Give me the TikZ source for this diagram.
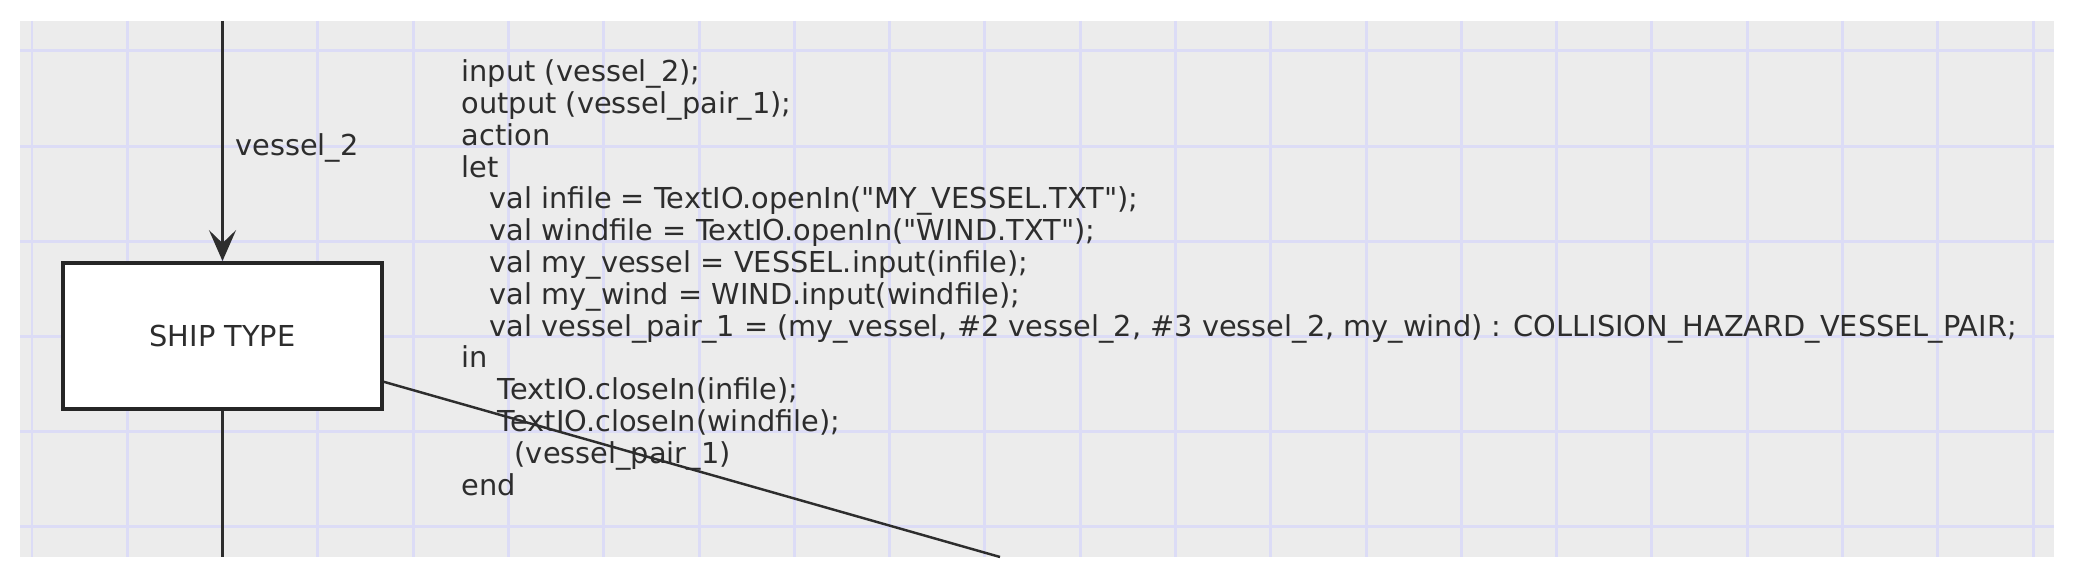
\documentclass[tikz,border=0pt]{standalone}
\usepackage{fontspec}
\setmainfont{DejaVu Sans}[Ligatures=TeXOff]
\usetikzlibrary{arrows.meta}
\definecolor{sheet}{RGB}{236,236,236}
\definecolor{gridblue}{RGB}{220,220,246}
\definecolor{ink}{RGB}{45,45,45}

\begin{document}
\begin{tikzpicture}[x=0.1mm, y=-0.1mm,
        conn/.style={draw=ink, line width=0.7pt},
        block/.style={draw=black!85, line width=1.1pt, fill=white,
            minimum width=31.9mm, minimum height=14.6mm,
            font=\fontsize{8.2}{9.05}\selectfont, text=ink},
        lbl/.style={font=\fontsize{8.2}{9.05}\selectfont, text=ink}]
    \useasboundingbox (0,0) rectangle (2078,578);
    \fill[sheet] (20,21) rectangle (2054,557);
    \foreach \i in {0,...,21}
        \draw[gridblue, line width=0.85pt] (32+95.29*\i,21) -- (32+95.29*\i,557);
    \foreach \j in {0,...,5}
        \draw[gridblue, line width=0.85pt] (20,51+95.2*\j) -- (2054,51+95.2*\j);

    \node[lbl, anchor=north west, inner sep=0pt, align=left] (code) at (461,59) {%
        input (vessel\_2);\\
        output (vessel\_pair\_1);\\
        action\\
        let\\
        \hspace*{2.8mm}val infile = TextIO.openIn("MY\_VESSEL.TXT");\\
        \hspace*{2.8mm}val windfile = TextIO.openIn("WIND.TXT");\\
        \hspace*{2.8mm}val my\_vessel = VESSEL.input(infile);\\
        \hspace*{2.8mm}val my\_wind = WIND.input(windfile);\\
        \hspace*{2.8mm}val vessel\_pair\_1 = (my\_vessel, \#2 vessel\_2, \#3 vessel\_2, my\_wind) : COLLISION\_HAZARD\_VESSEL\_PAIR;\\
        in\\
        \hspace*{3.6mm}TextIO.closeIn(infile);\\
        \hspace*{3.6mm}TextIO.closeIn(windfile);\\
        \hspace*{5.3mm}(vessel\_pair\_1)\\
        end};

    \node[block] (ship) at (222.5,336) {SHIP TYPE};
    \coordinate (in) at (222.5,21);
    \coordinate (down) at (222.5,557);
    \coordinate (away) at (1000,557);

    \draw[conn, -{Stealth[length=8.8pt, width=7.7pt, inset=3.7pt]}] (in) -- (ship)
        node[lbl, pos=0.53, right] {vessel\_2};
    \draw[conn] (ship) -- (down);
    \draw[conn] (ship) -- (away);
\end{tikzpicture}
\end{document}
